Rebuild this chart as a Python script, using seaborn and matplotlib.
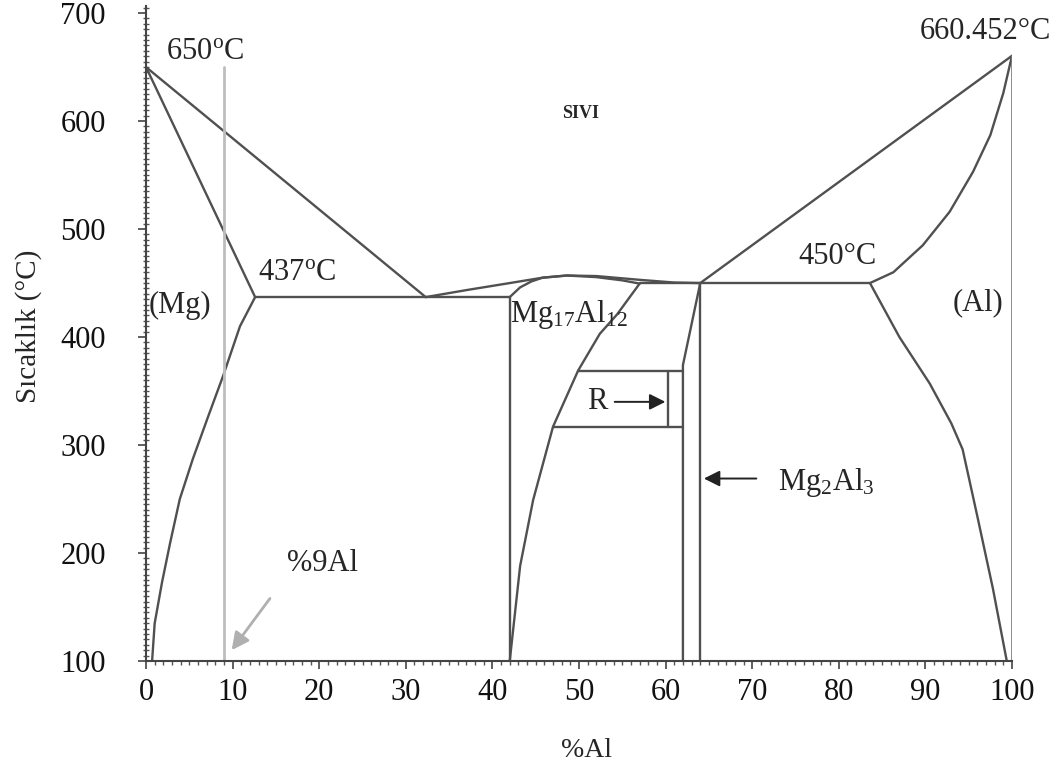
import matplotlib
matplotlib.use("Agg")
import matplotlib.pyplot as plt
from matplotlib.ticker import MultipleLocator
import seaborn as sns

# Phase boundaries (x = %Al, T = degrees C)
mg_liq_x = [0, 32.3]
mg_liq_t = [650, 437]
mg_sol_x = [0, 12.6]
mg_sol_t = [650, 437]
mg_solvus_x = [12.6, 10.85, 8.9, 7.2, 5.4, 3.9, 2.8, 1.85, 1.0, 0.7]
mg_solvus_t = [437, 410, 364, 327, 287, 250, 210, 173, 135, 100]

eut1_x = [12.6, 42]
eut1_t = [437, 437]

mid_liq_x = [32.3, 37, 42, 45.8, 48.6, 52, 57, 61, 64]
mid_liq_t = [437, 443.5, 450, 455, 457, 456.5, 453, 450.5, 450]
gam_sol_x = [42, 43.2, 44.5, 45.8, 48.6, 52, 55, 57]
gam_sol_t = [437, 446, 451.5, 455, 457, 455.5, 452.5, 449.5]
gam_left_x = [42, 42]
gam_left_t = [437, 100]
gam_solvus_x = [57, 54.4, 52.4, 49.9, 47.0, 44.7, 43.2, 42]
gam_solvus_t = [449.5, 421, 403, 369, 317, 249, 188, 100]

eut2_x = [57, 83.6]
eut2_t = [450, 450]
beta_left_x = [64, 62, 62]
beta_left_t = [450, 374, 100]
beta_right_x = [64, 64]
beta_right_t = [450, 100]

r_top_x = [49.9, 62]
r_top_t = [369, 369]
r_bot_x = [47.0, 62]
r_bot_t = [317, 317]
r_in_x = [60.3, 60.3]
r_in_t = [317, 369]

al_liq_x = [64, 100]
al_liq_t = [450, 660.452]
al_sol_x = [100, 99.0, 97.5, 95.5, 92.8, 89.7, 86.3, 83.6]
al_sol_t = [660.452, 626, 587, 553, 516, 485, 460, 450]
al_solvus_x = [83.6, 87, 90.5, 93, 94.3, 96, 97.8, 99.4]
al_solvus_t = [450, 400, 357, 320, 296, 234, 167, 100]
al_edge_x = [100, 100]
al_edge_t = [660.452, 100]

alloy_x = [9, 9]
alloy_t = [650, 100]

sns.set_theme(style="ticks")
plt.rcParams["font.family"] = ["Liberation Serif", "DejaVu Serif"]
plt.rcParams["mathtext.default"] = "regular"

fig = plt.figure(figsize=(10.62, 7.69), dpi=100)
ax = fig.add_axes([0.1375, 0.1404, 0.8154, 0.8524])

line_col = "#505050"
curves = [
    (mg_liq_x, mg_liq_t), (mg_sol_x, mg_sol_t), (mg_solvus_x, mg_solvus_t),
    (eut1_x, eut1_t), (mid_liq_x, mid_liq_t), (gam_sol_x, gam_sol_t),
    (gam_left_x, gam_left_t), (gam_solvus_x, gam_solvus_t),
    (eut2_x, eut2_t), (beta_left_x, beta_left_t), (beta_right_x, beta_right_t),
    (r_top_x, r_top_t), (r_bot_x, r_bot_t), (r_in_x, r_in_t),
    (al_liq_x, al_liq_t), (al_sol_x, al_sol_t), (al_solvus_x, al_solvus_t),
]
for cx, ct in curves:
    sns.lineplot(x=cx, y=ct, sort=False, estimator=None, color=line_col,
                 linewidth=1.7, ax=ax)

# thin edge at 100% Al and the 9% Al alloy line
sns.lineplot(x=al_edge_x, y=al_edge_t, sort=False, estimator=None,
             color="#7a7a7a", linewidth=1.2, ax=ax)
sns.lineplot(x=alloy_x, y=alloy_t, sort=False, estimator=None,
             color="#bdbdbd", linewidth=2.0, ax=ax)

# labels
fs = 22
ax.text(2.3, 664, "650$^o$C", fontsize=fs, va="center", ha="left")
ax.text(12.9, 460, "437$^o$C", fontsize=fs, va="center", ha="left")
ax.text(0.3, 429, "(Mg)", fontsize=fs, va="center", ha="left")
ax.text(42.0, 421, "Mg$_{17}$Al$_{12}$", fontsize=fs, va="center", ha="left")
ax.text(75.3, 475, "450°C", fontsize=fs, va="center", ha="left")
ax.text(89.4, 683, "660.452°C", fontsize=fs, va="center", ha="left", clip_on=False)
ax.text(93.1, 432, "(Al)", fontsize=fs, va="center", ha="left")
ax.text(50.2, 607, "SIVI", fontsize=13, fontweight="bold", va="center", ha="center")
ax.text(16.3, 190, "%9Al", fontsize=fs, va="center", ha="left")
ax.text(73.0, 265, "Mg$_2$Al$_3$", fontsize=fs, va="center", ha="left")
ax.text(52.1, 340, "R", fontsize=fs, va="center", ha="center")

# arrows
ax.annotate("", xy=(60.3, 340), xytext=(53.8, 340),
            arrowprops=dict(arrowstyle="-|>", mutation_scale=24, color="#222222", lw=1.4))
ax.annotate("", xy=(64.1, 269), xytext=(70.8, 269),
            arrowprops=dict(arrowstyle="-|>", mutation_scale=24, color="#222222", lw=1.4))
ax.annotate("", xy=(9.7, 108), xytext=(14.5, 160),
            arrowprops=dict(arrowstyle="-|>", mutation_scale=26, color="#b0b0b0", lw=2.0))

ax.set_xlim(0, 100)
ax.set_ylim(100, 707)
ax.xaxis.set_major_locator(MultipleLocator(10))
ax.xaxis.set_minor_locator(MultipleLocator(1))
ax.yaxis.set_minor_locator(MultipleLocator(5))
ax.set_yticks(range(100, 701, 100))

ax.tick_params(axis="both", which="major", length=6, width=1.2, color="#444444",
               labelsize=fs, labelcolor="#111111")
ax.tick_params(axis="x", which="major", pad=6)
ax.tick_params(axis="y", which="major", pad=23)
ax.tick_params(axis="x", which="minor", length=3, width=1.0, color="#555555")
ax.tick_params(axis="y", which="minor", length=4, width=1.0, color="#555555", direction="inout")

sns.despine(ax=ax)
for side in ("left", "bottom"):
    ax.spines[side].set_color("#444444")
    ax.spines[side].set_linewidth(1.5)

ax.set_xlabel("%Al", fontsize=20)
ax.set_ylabel("Sıcaklık (°C)", fontsize=21)
ax.xaxis.set_label_coords(0.509, -0.118)
ax.yaxis.set_label_coords(-0.12, 0.51)

fig.savefig("out.png", dpi=100, facecolor="white")
plt.close(fig)
